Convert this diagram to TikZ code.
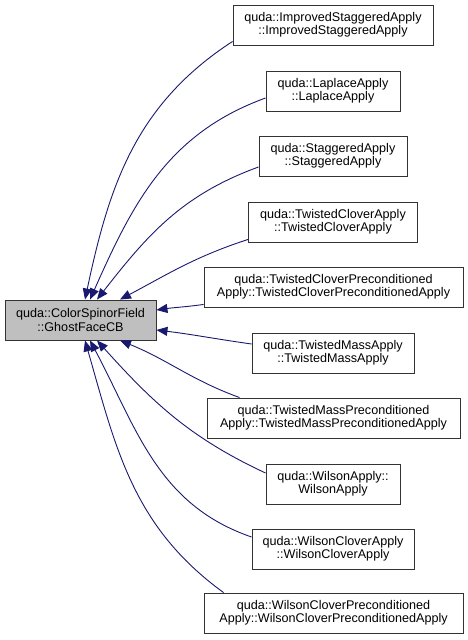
\documentclass[tikz,border=0pt]{standalone}
\usepackage{fontspec}
\setmainfont{Liberation Sans}
\usepackage{tikz}
\usetikzlibrary{shapes,arrows,arrows.meta,positioning}
\definecolor{edgeblue}{RGB}{25,25,112}
\definecolor{boxgray}{RGB}{191,191,191}
\tikzstyle{cnode} = [draw=black!80, line width=0.9pt, align=center, minimum height=40pt, inner sep=0pt, font=\fontsize{12.6}{13.4}\selectfont]
\tikzstyle{fnode} = [cnode, fill=boxgray]
\tikzstyle{line} = [draw=edgeblue, line width=0.9pt, {Triangle[length=11pt,width=9pt]}-]

\begin{document}
\begin{tikzpicture}[x=1pt, y=1pt]
			\useasboundingbox (0,0) rectangle (468,640);
			\node [fnode, minimum width=151pt] (gfcb) at (80.5, 320) {quda::ColorSpinorField\\::GhostFaceCB};
			\node [cnode, minimum width=200pt] (isa) at (333, 615) {quda::ImprovedStaggeredApply\\::ImprovedStaggeredApply};
			\node [cnode, minimum width=134pt] (lap) at (333, 549) {quda::LaplaceApply\\::LaplaceApply};
			\node [cnode, minimum width=148pt] (sta) at (333, 484) {quda::StaggeredApply\\::StaggeredApply};
			\node [cnode, minimum width=169pt] (tcl) at (333, 418) {quda::TwistedCloverApply\\::TwistedCloverApply};
			\node [cnode, minimum width=259pt] (tclp) at (333.5, 353) {quda::TwistedCloverPreconditioned\\Apply::TwistedCloverPreconditionedApply};
			\node [cnode, minimum width=162pt] (tma) at (333, 287) {quda::TwistedMassApply\\::TwistedMassApply};
			\node [cnode, minimum width=253pt] (tmap) at (333.5, 222) {quda::TwistedMassPreconditioned\\Apply::TwistedMassPreconditionedApply};
			\node [cnode, minimum width=134pt] (wil) at (333, 156) {quda::WilsonApply::\\WilsonApply};
			\node [cnode, minimum width=162pt] (wcl) at (333, 91) {quda::WilsonCloverApply\\::WilsonCloverApply};
			\node [cnode, minimum width=259pt] (wclp) at (333.5, 27) {quda::WilsonCloverPreconditioned\\Apply::WilsonCloverPreconditionedApply};

			\path [line] ([xshift=4.5pt]gfcb.north) to[in=213, out=78] ([yshift=4pt]isa.south west);
			\path [line] ([xshift=9.5pt]gfcb.north) to[in=200, out=66] ([yshift=-7pt]lap.west);
			\path [line] ([xshift=16.5pt]gfcb.north) to[in=200, out=52] ([yshift=-11pt]sta.west);
			\path [line] ([xshift=39.5pt]gfcb.north) to[in=198, out=28] ([yshift=3pt]tcl.south west);
			\path [line] ([yshift=10pt]gfcb.east) to[in=188, out=8] ([yshift=3pt]tclp.south west);
			\path [line] ([yshift=-10pt]gfcb.east) to[in=172, out=-7] ([yshift=9pt]tma.west);
			\path [line] ([xshift=39.5pt]gfcb.south) to[in=160, out=-22] ([xshift=33pt]tmap.north west);
			\path [line] ([xshift=16.5pt]gfcb.south) to[in=155, out=-48] ([yshift=11pt]wil.west);
			\path [line] ([xshift=9.5pt]gfcb.south) to[in=161, out=-62] ([yshift=12pt]wcl.west);
			\path [line] ([xshift=4.5pt]gfcb.south) to[in=144, out=-74] ([xshift=20pt]wclp.north west);
		\end{tikzpicture}
\end{document}
